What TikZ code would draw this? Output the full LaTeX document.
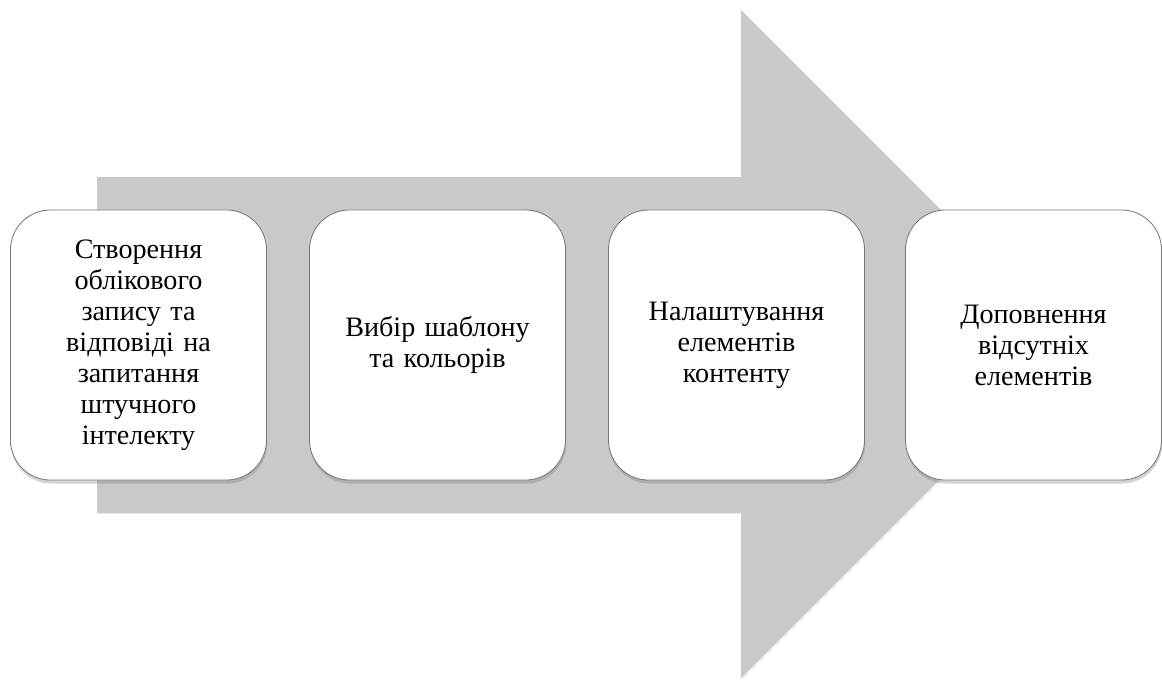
\documentclass[tikz,border=0pt]{standalone}
\usepackage{fontspec}
\setmainfont{Liberation Serif}
\usetikzlibrary{shadows}
\definecolor{arrowgray}{RGB}{201,201,201}
\definecolor{edgegray}{RGB}{120,120,120}
\begin{document}
\begin{tikzpicture}[
        x=0.025cm, y=-0.025cm,
        bigarrow/.style={fill=arrowgray, drop shadow={opacity=0.12, shadow xshift=1pt, shadow yshift=-1pt}},
        stage/.style={draw=edgegray, fill=white, rounded corners=1cm, line width=0.6pt,
            minimum width=6.4cm, minimum height=6.75cm, align=center, text width=6cm,
            font=\fontsize{20}{22}\selectfont,
            drop shadow={opacity=0.35, shadow xshift=0.5pt, shadow yshift=-2.5pt}}
    ]
        \useasboundingbox (0,0) rectangle (1162,684);

        % background arrow
        \path[bigarrow] (97,177) -- (741,177) -- (741,10) -- (1075,344)
            -- (741,678) -- (741,513) -- (97,513) -- cycle;

        \node[stage] (acct) at (138.5,345) {Створення\\облікового\\запису та\\відповіді на\\запитання\\штучного\\інтелекту};
        \node[stage] (tmpl) at (437.5,345) {Вибір шаблону\\та кольорів};
        \node[stage] (tune) at (736.5,345) {Налаштування\\елементів\\контенту};
        \node[stage] (miss) at (1033.5,345) {Доповнення\\відсутніх\\елементів};
    \end{tikzpicture}
\end{document}
